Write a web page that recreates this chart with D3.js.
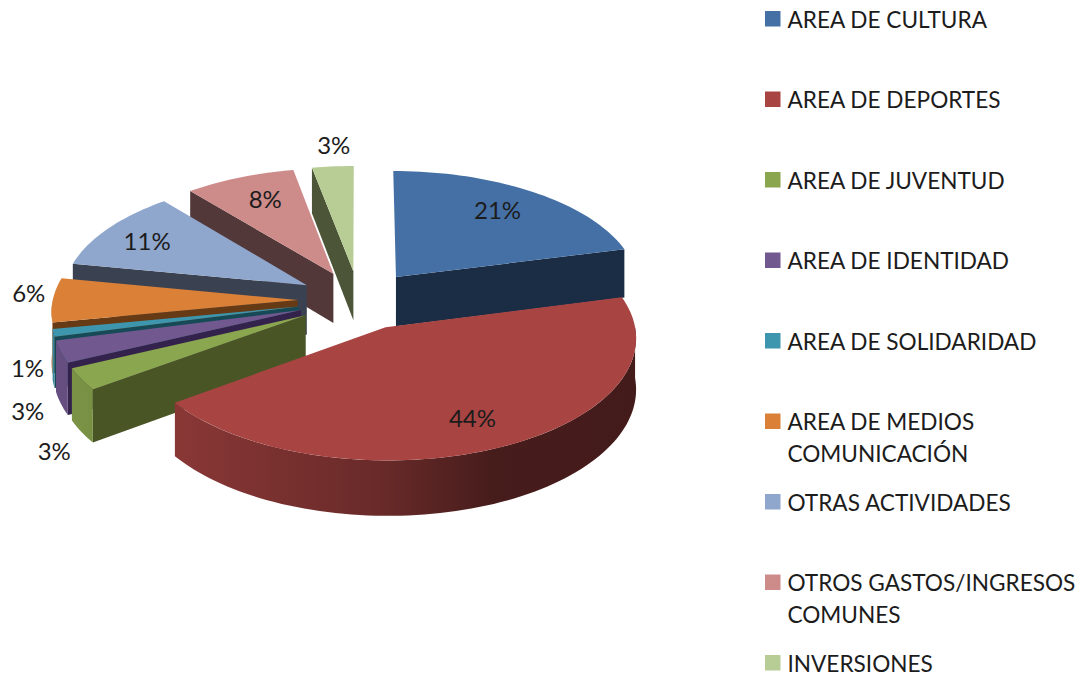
<!DOCTYPE html>
<html>
<head>
<meta charset="utf-8">
<script src="https://cdn.jsdelivr.net/npm/d3@7"></script>
<style>
  html, body { margin: 0; padding: 0; background: #fff; }
  text { font-family: Lato, "Open Sans", sans-serif; fill: #1c1c1c; }
</style>
</head>
<body>
<div id="chart"></div>
<script>
// Data
var categories = ["AREA DE CULTURA", "AREA DE DEPORTES", "AREA DE JUVENTUD", "AREA DE IDENTIDAD",
    "AREA DE SOLIDARIDAD", "AREA DE MEDIOS COMUNICACIÓN", "OTRAS ACTIVIDADES",
    "OTROS GASTOS/INGRESOS COMUNES", "INVERSIONES"];
var values = [21, 44, 3, 3, 1, 6, 11, 8, 3];
var legendLines = [["AREA DE CULTURA"], ["AREA DE DEPORTES"], ["AREA DE JUVENTUD"], ["AREA DE IDENTIDAD"],
    ["AREA DE SOLIDARIDAD"], ["AREA DE MEDIOS", "COMUNICACIÓN"], ["OTRAS ACTIVIDADES"],
    ["OTROS GASTOS/INGRESOS", "COMUNES"], ["INVERSIONES"]];

// Colours
var topColors = ["#4470a6", "#a84442", "#8aa64e", "#71588f", "#3d96ae", "#da8137", "#8fa6cd", "#cd8b8a", "#b7cd95"];
var cutColors = ["#1b2d45", "#441a17", "#4a5526", "#33224b", "#164a57", "#663a14", "#3a4252", "#523838", "#4d5538"];

// Label placement: radius along the slice, then a small nudge
var labelRadius = [0.95, 0.95, 1.25, 1.25, 1.25, 1.25, 0.95, 0.95, 1.25];
var labelNudge = [[4, -7], [7, 9], [-27, 71], [-33, 59], [-26, 35], [-24, -8], [-19, -5], [-1, -7], [1, -22]];

var width = 1084, height = 677;
var cx = 359, cy = 300, rx = 245, ry = 118;
var explode = 0.25, depth = 50, persp = 0.08;

var svg = d3.select("#chart").append("svg")
    .attr("width", width)
    .attr("height", height)
    .style("display", "block");
var defs = svg.append("defs");

// Perspective projection of the pie plane, v grows towards the viewer
function project(u, v, z) {
    var s = 1 / (1 - persp * v);
    return [cx + rx * u * s, cy + ry * v * s + z * s];
}

function pointAt(d, r, angle, z) {
    var mid = (d.startAngle + d.endAngle) / 2;
    return project(explode * Math.sin(mid) + r * Math.sin(angle),
        -explode * Math.cos(mid) - r * Math.cos(angle), z);
}

function arcPoints(d, a0, a1, z) {
    var n = Math.max(2, Math.ceil((a1 - a0) / 0.03));
    return d3.range(n + 1).map(function (i) {
        return pointAt(d, 1, a0 + (a1 - a0) * i / n, z);
    });
}

var line = d3.line();
var pie = d3.pie().sort(null)(values);
pie.forEach(function (d) { d.mid = (d.startAngle + d.endAngle) / 2; });

// Back slices first
var order = d3.range(pie.length).sort(function (a, b) {
    return Math.cos(pie[b].mid) - Math.cos(pie[a].mid);
});

// Wall shading runs left to right across the picture
var wallStops = [[50, 0.9], [167, 0.82], [383, 0.62], [490, 0.42], [640, 0.4]];
pie.forEach(function (d, i) {
    var grad = defs.append("linearGradient")
        .attr("id", "wall" + i)
        .attr("gradientUnits", "userSpaceOnUse")
        .attr("x1", wallStops[0][0]).attr("y1", 0)
        .attr("x2", wallStops[wallStops.length - 1][0]).attr("y2", 0);
    wallStops.forEach(function (st) {
        var c = d3.rgb(topColors[i]);
        grad.append("stop")
            .attr("offset", (st[0] - 50) / 590)
            .attr("stop-color", d3.rgb(c.r * st[1], c.g * st[1], c.b * st[1]).formatHex());
    });
});

var slices = svg.append("g");
order.forEach(function (i) {
    var d = pie[i];
    var g = slices.append("g");

    function cutFace(angle) {
        var pts = [pointAt(d, 0, angle, 0), pointAt(d, 1, angle, 0), pointAt(d, 1, angle, depth), pointAt(d, 0, angle, depth)];
        g.append("path").attr("d", line(pts) + "Z").attr("fill", cutColors[i]);
    }
    // A cut face shows when it looks towards the viewer
    if (Math.cos(d.startAngle - Math.PI / 2) < 0) cutFace(d.startAngle);
    if (Math.cos(d.endAngle + Math.PI / 2) < 0) cutFace(d.endAngle);

    // Outer wall, front half of the circle only
    var a0 = Math.max(d.startAngle, Math.PI / 2), a1 = Math.min(d.endAngle, 3 * Math.PI / 2);
    if (a1 > a0) {
        var wall = arcPoints(d, a0, a1, 0).concat(arcPoints(d, a0, a1, depth).reverse());
        g.append("path").attr("d", line(wall) + "Z").attr("fill", "url(#wall" + i + ")");
    }

    var top = [pointAt(d, 0, d.startAngle, 0)].concat(arcPoints(d, d.startAngle, d.endAngle, 0));
    g.append("path").attr("d", line(top) + "Z").attr("fill", topColors[i]);
});

// Percent labels
svg.append("g").selectAll("text")
    .data(pie)
    .enter()
    .append("text")
    .attr("x", function (d, i) { return pointAt(d, labelRadius[i] - explode, d.mid, 0)[0] + labelNudge[i][0]; })
    .attr("y", function (d, i) { return pointAt(d, labelRadius[i] - explode, d.mid, 0)[1] + labelNudge[i][1]; })
    .attr("text-anchor", "middle")
    .attr("dominant-baseline", "central")
    .attr("font-size", 24)
    .text(function (d) { return d.value + "%"; });

// Legend
var legendY = d3.scalePoint().domain(categories).range([19, 663]);
var legend = svg.append("g").selectAll("g")
    .data(categories)
    .enter()
    .append("g")
    .attr("transform", function (d) { return "translate(765," + legendY(d) + ")"; });
legend.append("rect")
    .attr("y", -8).attr("width", 15.5).attr("height", 15.5)
    .attr("fill", function (d, i) { return topColors[i]; });
legend.each(function (d, i) {
    d3.select(this).selectAll("text")
        .data(legendLines[i])
        .enter()
        .append("text")
        .attr("x", 22.5)
        .attr("y", function (t, j) { return j * 32; })
        .attr("dominant-baseline", "central")
        .attr("font-size", 22.6)
        .text(function (t) { return t; });
});
</script>
</body>
</html>
